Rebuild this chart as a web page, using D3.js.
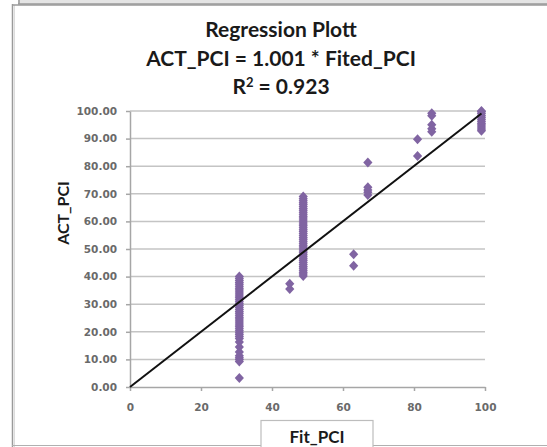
<!DOCTYPE html>
<html>
<head>
<meta charset="utf-8">
<script src="https://cdn.jsdelivr.net/npm/d3@7"></script>
<style>
  body { margin: 0; background: #fff; }
  .tick text { font-family: "DejaVu Sans", sans-serif; font-size: 10.5px; font-weight: bold; fill: #6a6a6a; }
  .axis path, .axis line { stroke: #a6a6a6; stroke-width: 1.5; }
  .grid line { stroke: #c4c4c4; stroke-width: 1.5; }
</style>
</head>
<body>
<svg id="chart" width="547" height="447"></svg>
<script>
// fitted value of each vertical cluster and the actual values read at it
var fitGroups = [30.8, 45, 48.8, 63, 67, 81, 85, 99];
var actGroups = [
  [3.3, 9.2, 10.0, 10.6, 11.3, 12.7, 14.5, 16.3, 17.6, 18.3, 19.0, 19.7, 20.4, 21.1, 21.8,
   22.5, 23.2, 23.9, 24.6, 25.3, 26.0, 26.7, 27.4, 28.1, 28.8, 29.5, 30.2, 30.9, 31.6,
   32.3, 33.0, 33.7, 34.4, 35.1, 35.8, 36.5, 37.2, 37.9, 38.6, 39.3, 40.0],
  [35.5, 37.4],
  [40.2, 40.9, 41.6, 42.3, 43.0, 43.7, 44.4, 45.1, 45.8, 46.5, 47.2, 47.9, 48.6, 49.3,
   50.0, 50.7, 51.4, 52.1, 52.8, 53.5, 54.2, 54.9, 55.6, 56.3, 57.0, 57.7, 58.4, 59.1,
   59.8, 60.5, 61.2, 61.9, 62.6, 63.3, 64.0, 64.7, 65.4, 66.1, 66.8, 67.5, 68.2, 69.0],
  [43.9, 48.1],
  [69.6, 70.6, 71.4, 72.4, 81.3],
  [83.7, 89.8],
  [92.5, 93.6, 95.0, 98.3, 99.2],
  [92.8, 93.5, 94.2, 94.9, 95.6, 96.3, 97.0, 97.7, 98.4, 99.1, 99.7, 100.0]
];
var slope = 1.001;
var lineFit = [0, 99];
var xTicks = [0, 20, 40, 60, 80, 100];
var yTicks = [0, 10, 20, 30, 40, 50, 60, 70, 80, 90, 100];
var titleLines = ["Regression Plott", "ACT_PCI = 1.001 * Fited_PCI"];

var svg = d3.select("#chart");
var margin = { top: 111, left: 130 },
  width = 355,
  height = 276;

// frame of the pasted chart
svg.append("rect").attr("x", 18).attr("y", 0).attr("width", 529).attr("height", 4)
  .style("fill", "#e4e4e4");
svg.append("line").attr("x1", 18).attr("x2", 547).attr("y1", 4).attr("y2", 4)
  .style("stroke", "#9a9a9a").style("stroke-width", 1.5);
svg.append("line").attr("x1", 19).attr("x2", 19).attr("y1", 0).attr("y2", 4)
  .style("stroke", "#9a9a9a").style("stroke-width", 1.5);
svg.append("line").attr("x1", 12.5).attr("x2", 12.5).attr("y1", 4).attr("y2", 447)
  .style("stroke", "#9a9a9a").style("stroke-width", 1.5);
svg.append("line").attr("x1", 14.5).attr("x2", 14.5).attr("y1", 5).attr("y2", 447)
  .style("stroke", "#dcdcdc").style("stroke-width", 1);
svg.append("line").attr("x1", 12).attr("x2", 547).attr("y1", 5).attr("y2", 5)
  .style("stroke", "#9a9a9a").style("stroke-width", 1.5);
svg.append("line").attr("x1", 12).attr("x2", 547).attr("y1", 445.5).attr("y2", 445.5)
  .style("stroke", "#b0b0b0").style("stroke-width", 1);

var g = svg.append("g")
  .attr("transform", "translate(" + margin.left + "," + margin.top + ")");

var x = d3.scaleLinear().domain([0, 100]).range([0, width]),
  y = d3.scaleLinear().domain([0, 100]).range([height, 0]);

// gridlines
g.append("g").attr("class", "grid")
  .selectAll("line")
  .data(yTicks.filter(function (d) { return d > 0; }))
  .enter().append("line")
  .attr("x1", 0).attr("x2", width)
  .attr("y1", function (d) { return y(d); })
  .attr("y2", function (d) { return y(d); });

g.append("g").attr("class", "axis")
  .call(d3.axisLeft(y).tickValues(yTicks).tickFormat(d3.format(".2f"))
    .tickSize(4).tickSizeOuter(0).tickPadding(9));

g.append("g").attr("class", "axis")
  .attr("transform", "translate(0," + height + ")")
  .call(d3.axisBottom(x).tickValues(xTicks).tickSize(4).tickSizeOuter(0).tickPadding(13));

// points
var points = [];
fitGroups.forEach(function (f, i) {
  actGroups[i].forEach(function (a) { points.push({ fit: f, act: a }); });
});

var diamond = "M0,-5L4.6,0L0,5L-4.6,0Z";
g.append("g")
  .selectAll("path")
  .data(points)
  .enter().append("path")
  .attr("d", diamond)
  .attr("transform", function (d) { return "translate(" + x(d.fit) + "," + y(d.act) + ")"; })
  .style("fill", "#8064a2");

// regression line
var line = d3.line()
  .x(function (d) { return x(d); })
  .y(function (d) { return y(slope * d); });
g.append("path")
  .datum(lineFit)
  .attr("d", line)
  .style("fill", "none")
  .style("stroke", "#111")
  .style("stroke-width", 2);

// titles
var title = svg.append("text")
  .attr("text-anchor", "middle")
  .style("font-family", "Lato, sans-serif")
  .style("font-weight", "bold")
  .style("font-size", "21px")
  .style("fill", "#1a1a1a");
title.selectAll("tspan")
  .data(titleLines)
  .enter().append("tspan")
  .attr("x", 281)
  .attr("y", function (d, i) { return 37 + i * 28.5; })
  .text(function (d) { return d; });
var r2 = title.append("tspan").attr("x", 281).attr("y", 94);
r2.append("tspan").text("R");
r2.append("tspan").attr("dy", -7).style("font-size", "13px").text("2");
r2.append("tspan").attr("dy", 7).text(" = 0.923");

svg.append("text")
  .attr("transform", "translate(69,213) rotate(-90)")
  .attr("text-anchor", "middle")
  .style("font-family", "Lato, sans-serif")
  .style("font-weight", "bold")
  .style("font-size", "16px")
  .style("fill", "#1a1a1a")
  .text("ACT_PCI");

svg.append("rect")
  .attr("x", 261).attr("y", 420.5).attr("width", 112).attr("height", 30)
  .style("fill", "#fff").style("stroke", "#bdbdbd").style("stroke-width", 1.2);
svg.append("text")
  .attr("x", 317).attr("y", 443)
  .attr("text-anchor", "middle")
  .style("font-family", "Lato, sans-serif")
  .style("font-weight", "bold")
  .style("font-size", "17px")
  .style("fill", "#1a1a1a")
  .text("Fit_PCI");
</script>
</body>
</html>
